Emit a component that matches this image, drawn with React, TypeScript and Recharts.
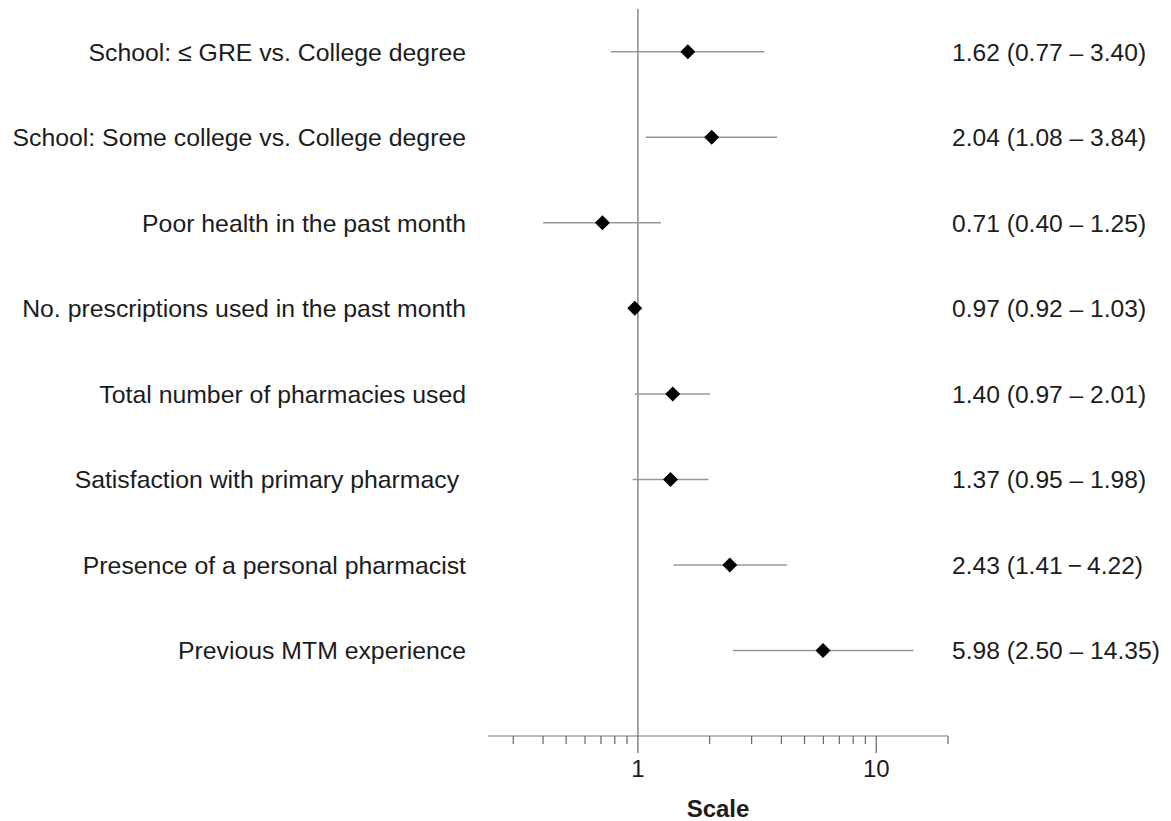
import React from "react"
import { ScatterChart, Scatter, XAxis, YAxis, ErrorBar, ReferenceLine } from "recharts"

const factors = [
  "School: \u2264 GRE vs. College degree",
  "School: Some college vs. College degree",
  "Poor health in the past month",
  "No. prescriptions used in the past month",
  "Total number of pharmacies used",
  "Satisfaction with primary pharmacy\u00a0",
  "Presence of a personal pharmacist",
  "Previous MTM experience",
]

const oddsRatio = [1.62, 2.04, 0.71, 0.97, 1.4, 1.37, 2.43, 5.98]
const lowerCI = [0.77, 1.08, 0.4, 0.92, 0.97, 0.95, 1.41, 2.5]
const upperCI = [3.4, 3.84, 1.25, 1.03, 2.01, 1.98, 4.22, 14.35]

const ciLabels = [
  "1.62 (0.77 \u2013 3.40)",
  "2.04 (1.08 \u2013 3.84)",
  "0.71 (0.40 \u2013 1.25)",
  "0.97 (0.92 \u2013 1.03)",
  "1.40 (0.97 \u2013 2.01)",
  "1.37 (0.95 \u2013 1.98)",
  "2.43 (1.41\u2009\u2212\u20094.22)",
  "5.98 (2.50 \u2013 14.35)",
]

const xTicks = [0.3, 0.4, 0.5, 0.6, 0.7, 0.8, 0.9, 1, 2, 3, 4, 5, 6, 7, 8, 9, 10, 20]
const xTickLabels: Record<number, string> = { 1: "1", 10: "10" }

const rows = factors.map((name, i) => ({
  name,
  row: i + 1,
  or: oddsRatio[i],
  err: [oddsRatio[i] - lowerCI[i], upperCI[i] - oddsRatio[i]],
}))

const font = "'Liberation Sans', Arial, sans-serif"
const textColor = "#1c1c1c"

const Diamond = (props: any) => {
  const { cx, cy } = props
  const r = 7.5
  return <polygon points={`${cx},${cy - r} ${cx + r},${cy} ${cx},${cy + r} ${cx - r},${cy}`} fill="#000" />
}

const Nothing = () => <g />

const LeftTick = (props: any) => {
  const { x, y, payload } = props
  return (
    <text x={x - 22} y={y + 9} textAnchor="end" fontSize={24.8} fontFamily={font} fill={textColor}>
      {factors[payload.value - 1]}
    </text>
  )
}

const RightTick = (props: any) => {
  const { x, y, payload } = props
  return (
    <text x={x + 4} y={y + 9} textAnchor="start" fontSize={24.6} fontFamily={font} fill={textColor}>
      {ciLabels[payload.value - 1]}
    </text>
  )
}

const BottomTick = (props: any) => {
  const { x, y, payload } = props
  const label = xTickLabels[payload.value]
  return (
    <g>
      <line x1={x} y1={y} x2={x} y2={y + (label ? 17 : 8)} stroke="#666" strokeWidth={1.2} />
      {label && (
        <text x={x} y={y + 41} textAnchor="middle" fontSize={24} fontFamily={font} fill={textColor}>
          {label}
        </text>
      )}
    </g>
  )
}

export default function App() {
  return (
    <div style={{ position: "absolute", left: 0, top: 0, background: "#fff" }}>
      <ScatterChart width={1171} height={821} margin={{ top: 9, right: 0, bottom: 0, left: 0 }}>
        <XAxis
          dataKey="or"
          type="number"
          scale="log"
          domain={[0.235, 20]}
          allowDataOverflow
          ticks={xTicks}
          interval={0}
          height={85}
          tickSize={0}
          tickMargin={0}
          tickLine={false}
          axisLine={{ stroke: "#777", strokeWidth: 1.2 }}
          tick={<BottomTick />}
          label={{
            value: "Scale",
            position: "insideBottom",
            offset: 4,
            fontSize: 24,
            fontWeight: "bold",
            fontFamily: font,
            fill: textColor,
          }}
        />
        <YAxis
          yAxisId="left"
          dataKey="row"
          type="number"
          domain={[0.5, 9]}
          ticks={[1, 2, 3, 4, 5, 6, 7, 8]}
          interval={0}
          reversed
          width={488}
          tickSize={0}
          tickMargin={0}
          tickLine={false}
          axisLine={false}
          tick={<LeftTick />}
        />
        <YAxis
          yAxisId="right"
          orientation="right"
          dataKey="row"
          type="number"
          domain={[0.5, 9]}
          ticks={[1, 2, 3, 4, 5, 6, 7, 8]}
          interval={0}
          reversed
          width={223}
          tickSize={0}
          tickMargin={0}
          tickLine={false}
          axisLine={false}
          tick={<RightTick />}
        />
        <ReferenceLine yAxisId="left" x={1} stroke="#888" strokeWidth={1.5} />
        <Scatter yAxisId="right" data={rows} shape={<Nothing />} isAnimationActive={false} legendType="none" />
        <Scatter yAxisId="left" data={rows} shape={<Diamond />} isAnimationActive={false}>
          <ErrorBar dataKey="err" direction="x" width={0} stroke="#999" strokeWidth={1.5} />
        </Scatter>
      </ScatterChart>
    </div>
  )
}
